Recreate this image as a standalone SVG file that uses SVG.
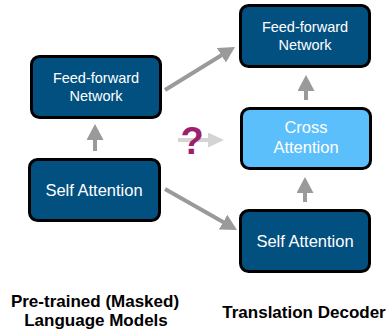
<svg xmlns="http://www.w3.org/2000/svg" width="392" height="332" viewBox="0 0 392 332">
<defs>
<style>
.box{fill:#02507f;stroke:#000;stroke-width:3}
.light{fill:#5bbffb;stroke:#000;stroke-width:3}
.t{font-family:"Liberation Sans",Arial,sans-serif;fill:#fff;text-anchor:middle}
.ffn{font-size:14.5px}
.sa{font-size:16.5px}
.lbl{font-family:"Liberation Sans",Arial,sans-serif;font-weight:bold;font-size:17px;fill:#000;text-anchor:middle}
.conn{stroke:#9a9a9a;stroke-width:4;fill:none;marker-end:url(#ah)}
.qconn{stroke:#d4d4d4;stroke-width:4;fill:none;marker-end:url(#ahl)}
</style>
<marker id="ah" markerUnits="userSpaceOnUse" markerWidth="16" markerHeight="17" refX="2" refY="8.5" orient="auto">
<path d="M0,0 L16,8.5 L0,17 z" fill="#9a9a9a"/>
</marker>
<marker id="ahl" markerUnits="userSpaceOnUse" markerWidth="16" markerHeight="15" refX="2" refY="7.5" orient="auto">
<path d="M0,0 L16,7.5 L0,15 z" fill="#d4d4d4"/>
</marker>
</defs>
<rect width="392" height="332" fill="#fff"/>
<g id="connectors">
<line class="conn" x1="95" y1="151" x2="95" y2="138"/>
<line class="conn" x1="306" y1="100" x2="306" y2="89"/>
<line class="conn" x1="305" y1="202" x2="305" y2="191"/>
<line class="conn" x1="165" y1="90" x2="223.1" y2="54.3"/>
<line class="conn" x1="165" y1="189" x2="224.8" y2="223.1"/>
<line class="qconn" x1="178" y1="140" x2="210" y2="140"/>
<text x="192" y="154" font-family="Liberation Sans,Arial,sans-serif" font-weight="bold" font-size="38" fill="#9c1f6e" text-anchor="middle">?</text>
</g>
<g id="left-ffn">
<rect class="box" x="31.5" y="56.5" width="129" height="61" rx="8"/>
<text class="t ffn" x="96" y="83">Feed-forward</text>
<text class="t ffn" x="96" y="101">Network</text>
</g>
<g id="left-sa">
<rect class="box" x="29.5" y="159.5" width="130" height="61" rx="8"/>
<text class="t sa" x="94" y="196">Self Attention</text>
</g>
<g id="right-ffn">
<rect class="box" x="240.5" y="5.5" width="129" height="61" rx="8"/>
<text class="t ffn" x="305" y="32">Feed-forward</text>
<text class="t ffn" x="305" y="50">Network</text>
</g>
<g id="cross-attention">
<rect class="light" x="241.5" y="108.5" width="129" height="60" rx="8"/>
<text class="t sa" x="306" y="133">Cross</text>
<text class="t sa" x="306" y="153">Attention</text>
</g>
<g id="right-sa">
<rect class="box" x="240.5" y="210.5" width="129" height="61" rx="8"/>
<text class="t sa" x="305" y="247">Self Attention</text>
</g>
<g id="labels">
<text class="lbl" x="95" y="307">Pre-trained (Masked)</text>
<text class="lbl" x="96" y="326">Language Models</text>
<text class="lbl" x="304" y="318">Translation Decoder</text>
</g>
</svg>
